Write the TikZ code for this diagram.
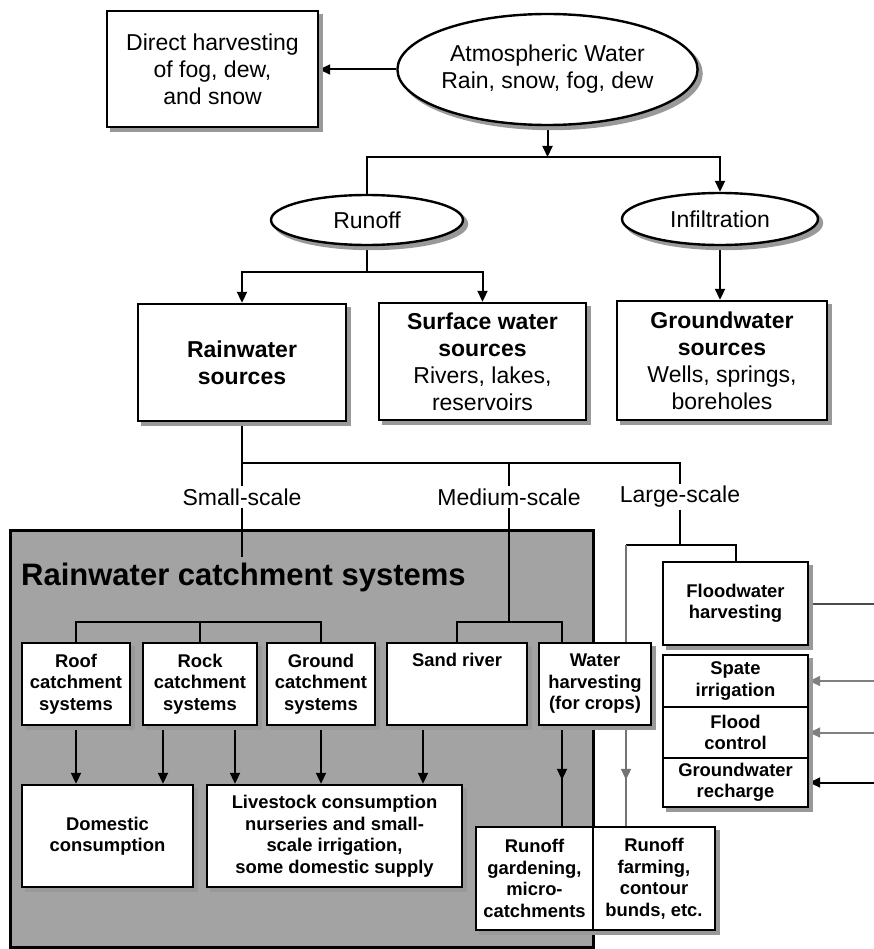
\documentclass[tikz,border=0pt]{standalone}
\usepackage{fontspec}
\setmainfont{Liberation Sans}
\usetikzlibrary{shapes.geometric,arrows.meta,decorations.markings,positioning}
\pgfdeclarelayer{back}
\pgfdeclarelayer{wires}
\pgfsetlayers{back,wires,main}
\tikzset{
  box/.style={
    draw,
    fill=white,
    line width=2.4pt,
    align=center,
    inner sep=0pt,
    preaction={fill=black!40,draw=black!40,transform canvas={xshift=4pt,yshift=-4pt}},
    font=\fontsize{23}{27}\selectfont
  },
  smallbox/.style={
    box,
    font=\fontsize{18.4}{21.5}\selectfont\bfseries
  },
  oval/.style={
    box,
    shape=ellipse
  },
  boxsize/.style 2 args={
    minimum width=#1pt,
    minimum height=#2pt
  },
  wire/.style={line width=2pt},
  arrowwire/.style={wire,-{Triangle[length=11pt,width=10pt]}},
  midarrow/.style={
    wire,
    postaction={decorate},
    decoration={markings,mark=at position #1 with {\arrow{Triangle[length=11pt,width=10pt]}}}
  }
}

\begin{document}
\begin{tikzpicture}[x=1pt,y=-1pt]
    \useasboundingbox (0,0) rectangle (873,949);
    % sources
    \node[box,boxsize={211}{116}] (direct) at (212.5,69) {Direct harvesting\\of fog, dew,\\and snow};
    \node[oval,boxsize={285}{111}] (atmos) at (547.5,69.5) {Atmospheric Water\\Rain, snow, fog, dew};
    \node[oval,boxsize={192}{50}] (runoff) at (367,220) {Runoff};
    \node[oval,boxsize={196}{52}] (infil) at (720,219) {Infiltration};
    \node[box,boxsize={208}{117}] (rainsrc) at (242,362.5) {\textbf{Rainwater}\\\textbf{sources}};
    \node[box,boxsize={207}{117}] (surfsrc) at (482.5,361.5) {\textbf{Surface water}\\\textbf{sources}\\Rivers, lakes,\\reservoirs};
    \node[box,boxsize={210}{119}] (groundsrc) at (722,360.5) {\textbf{Groundwater}\\\textbf{sources}\\Wells, springs,\\boreholes};
    \foreach \n/\x/\t in {small/242/Small-scale,medium/509/Medium-scale,large/680/Large-scale}
        \node[font=\fontsize{23}{27}\selectfont,inner sep=2pt] (\n) at (\x,497) {\t};

    % catchment systems
    \begin{pgfonlayer}{back}
        \node[draw,line width=3pt,fill=black!36,inner sep=0pt,boxsize={583}{417}] (rcs) at (301.5,738.5) {};
    \end{pgfonlayer}
    \node[anchor=west,inner sep=0pt,font=\fontsize{31}{36}\selectfont\bfseries] (rcstitle) at (21,577) {Rainwater catchment systems};
    \foreach \n/\x/\w/\t in {roof/76/108/{Roof\\catchment\\systems},rock/200/114/{Rock\\catchment\\systems},ground/321/108/{Ground\\catchment\\systems},water/595/112/{Water\\harvesting\\(for crops)}}
        \node[smallbox,boxsize={\w}{82}] (\n) at (\x,684) {\t};
    \node[smallbox,boxsize={140}{82}] (sand) at (457,684) {};
    \node[font=\fontsize{18.4}{21.5}\selectfont\bfseries,inner sep=3pt,below=8pt of sand.north] (sandlbl) {Sand river};
    \node[smallbox,boxsize={171}{102}] (domestic) at (107.5,836) {Domestic\\consumption};
    \node[smallbox,boxsize={255}{102}] (livestock) at (334.5,836) {Livestock consumption\\nurseries and small-\\scale irrigation,\\some domestic supply};
    \node[smallbox,boxsize={117}{103}] (gardening) at (534.5,878.5) {Runoff\\gardening,\\micro-\\catchments};
    \node[smallbox,boxsize={122}{103}] (farming) at (654,878.5) {Runoff\\farming,\\contour\\bunds, etc.};

    % floodwater
    \node[smallbox,boxsize={145}{83}] (flood) at (735.5,603.5) {Floodwater\\harvesting};
    \foreach \n/\y/\h/\t in {spate/681/52/{Spate\\irrigation},floodctl/732.5/51/{Flood\\control},recharge/782.5/49/{Groundwater\\recharge}}
        \node[smallbox,boxsize={145}{\h}] (\n) at (735.5,\y) {\t};

    \begin{pgfonlayer}{wires}
        \draw[arrowwire] (atmos.west) -- (atmos.west -| direct.east);
        \coordinate (split1) at (547.5,157);
        \draw[arrowwire] (atmos.south) -- (split1);
        \draw[arrowwire] (runoff.north) |- (split1) -| (infil.north);
        \coordinate (split2) at (367,272);
        \draw[wire] (runoff.south) -- (split2);
        \draw[arrowwire] (split2) -| (rainsrc.north);
        \draw[arrowwire] (split2) -| (surfsrc.north);
        \draw[arrowwire] (infil.south) -- (infil.south |- groundsrc.north);

        \coordinate (split3) at (242,463);
        \draw[wire] (rainsrc.south) -- (small.north);
        \draw[wire] (split3) -| (large.north);
        \draw[wire] (medium.north |- split3) -- (medium.north);
        \coordinate (smallend) at (242,557);
        \draw[wire] (small.south) -- (smallend);

        \coordinate (smallsplit) at (76,622);
        \draw[wire] (roof.north) |- (smallsplit -| ground.north) -- (ground.north);
        \draw[wire] (rock.north) -- (rock.north |- smallsplit);
        \path (rock.south) ++(-37,0) coordinate (rockl) ++(72,0) coordinate (rockr);
        \path (sand.south) ++(-34,0) coordinate (sandl);
        \draw[arrowwire] (roof.south) -- (roof.south |- domestic.north);
        \draw[arrowwire] (rockl) -- (rockl |- domestic.north);
        \foreach \s in {rockr,ground.south,sandl}
            \draw[arrowwire] (\s) -- (\s |- livestock.north);

        \coordinate (medsplit) at (509,622);
        \coordinate (medright) at (562,622);
        \draw[wire] (medium.south) -- (medsplit);
        \draw[wire] (sand.north) |- (medright) -- (medright |- water.north);
        \draw[midarrow=-46pt] (medright |- water.south) -- (medright |- gardening.north);

        \coordinate (largesplit) at (680,545);
        \coordinate (largeleft) at (626,545);
        \draw[wire] (large.south) -- (largesplit);
        \draw[wire] (largeleft) -| (flood.north);
        \draw[midarrow=-46pt,draw=black!55] (largeleft) -- (largeleft |- farming.north);

        \coordinate (eflood) at ([xshift=65pt]flood.east);
        \draw[wire,draw=black!70] (flood.east) -- (eflood);
        \foreach \n/\c in {spate/black!50,floodctl/black!50,recharge/black}{
            \coordinate (e\n) at ([xshift=65pt]\n.east);
            \draw[arrowwire,draw=\c] (e\n) -- (\n.east);
        }
    \end{pgfonlayer}
\end{tikzpicture}
\end{document}
